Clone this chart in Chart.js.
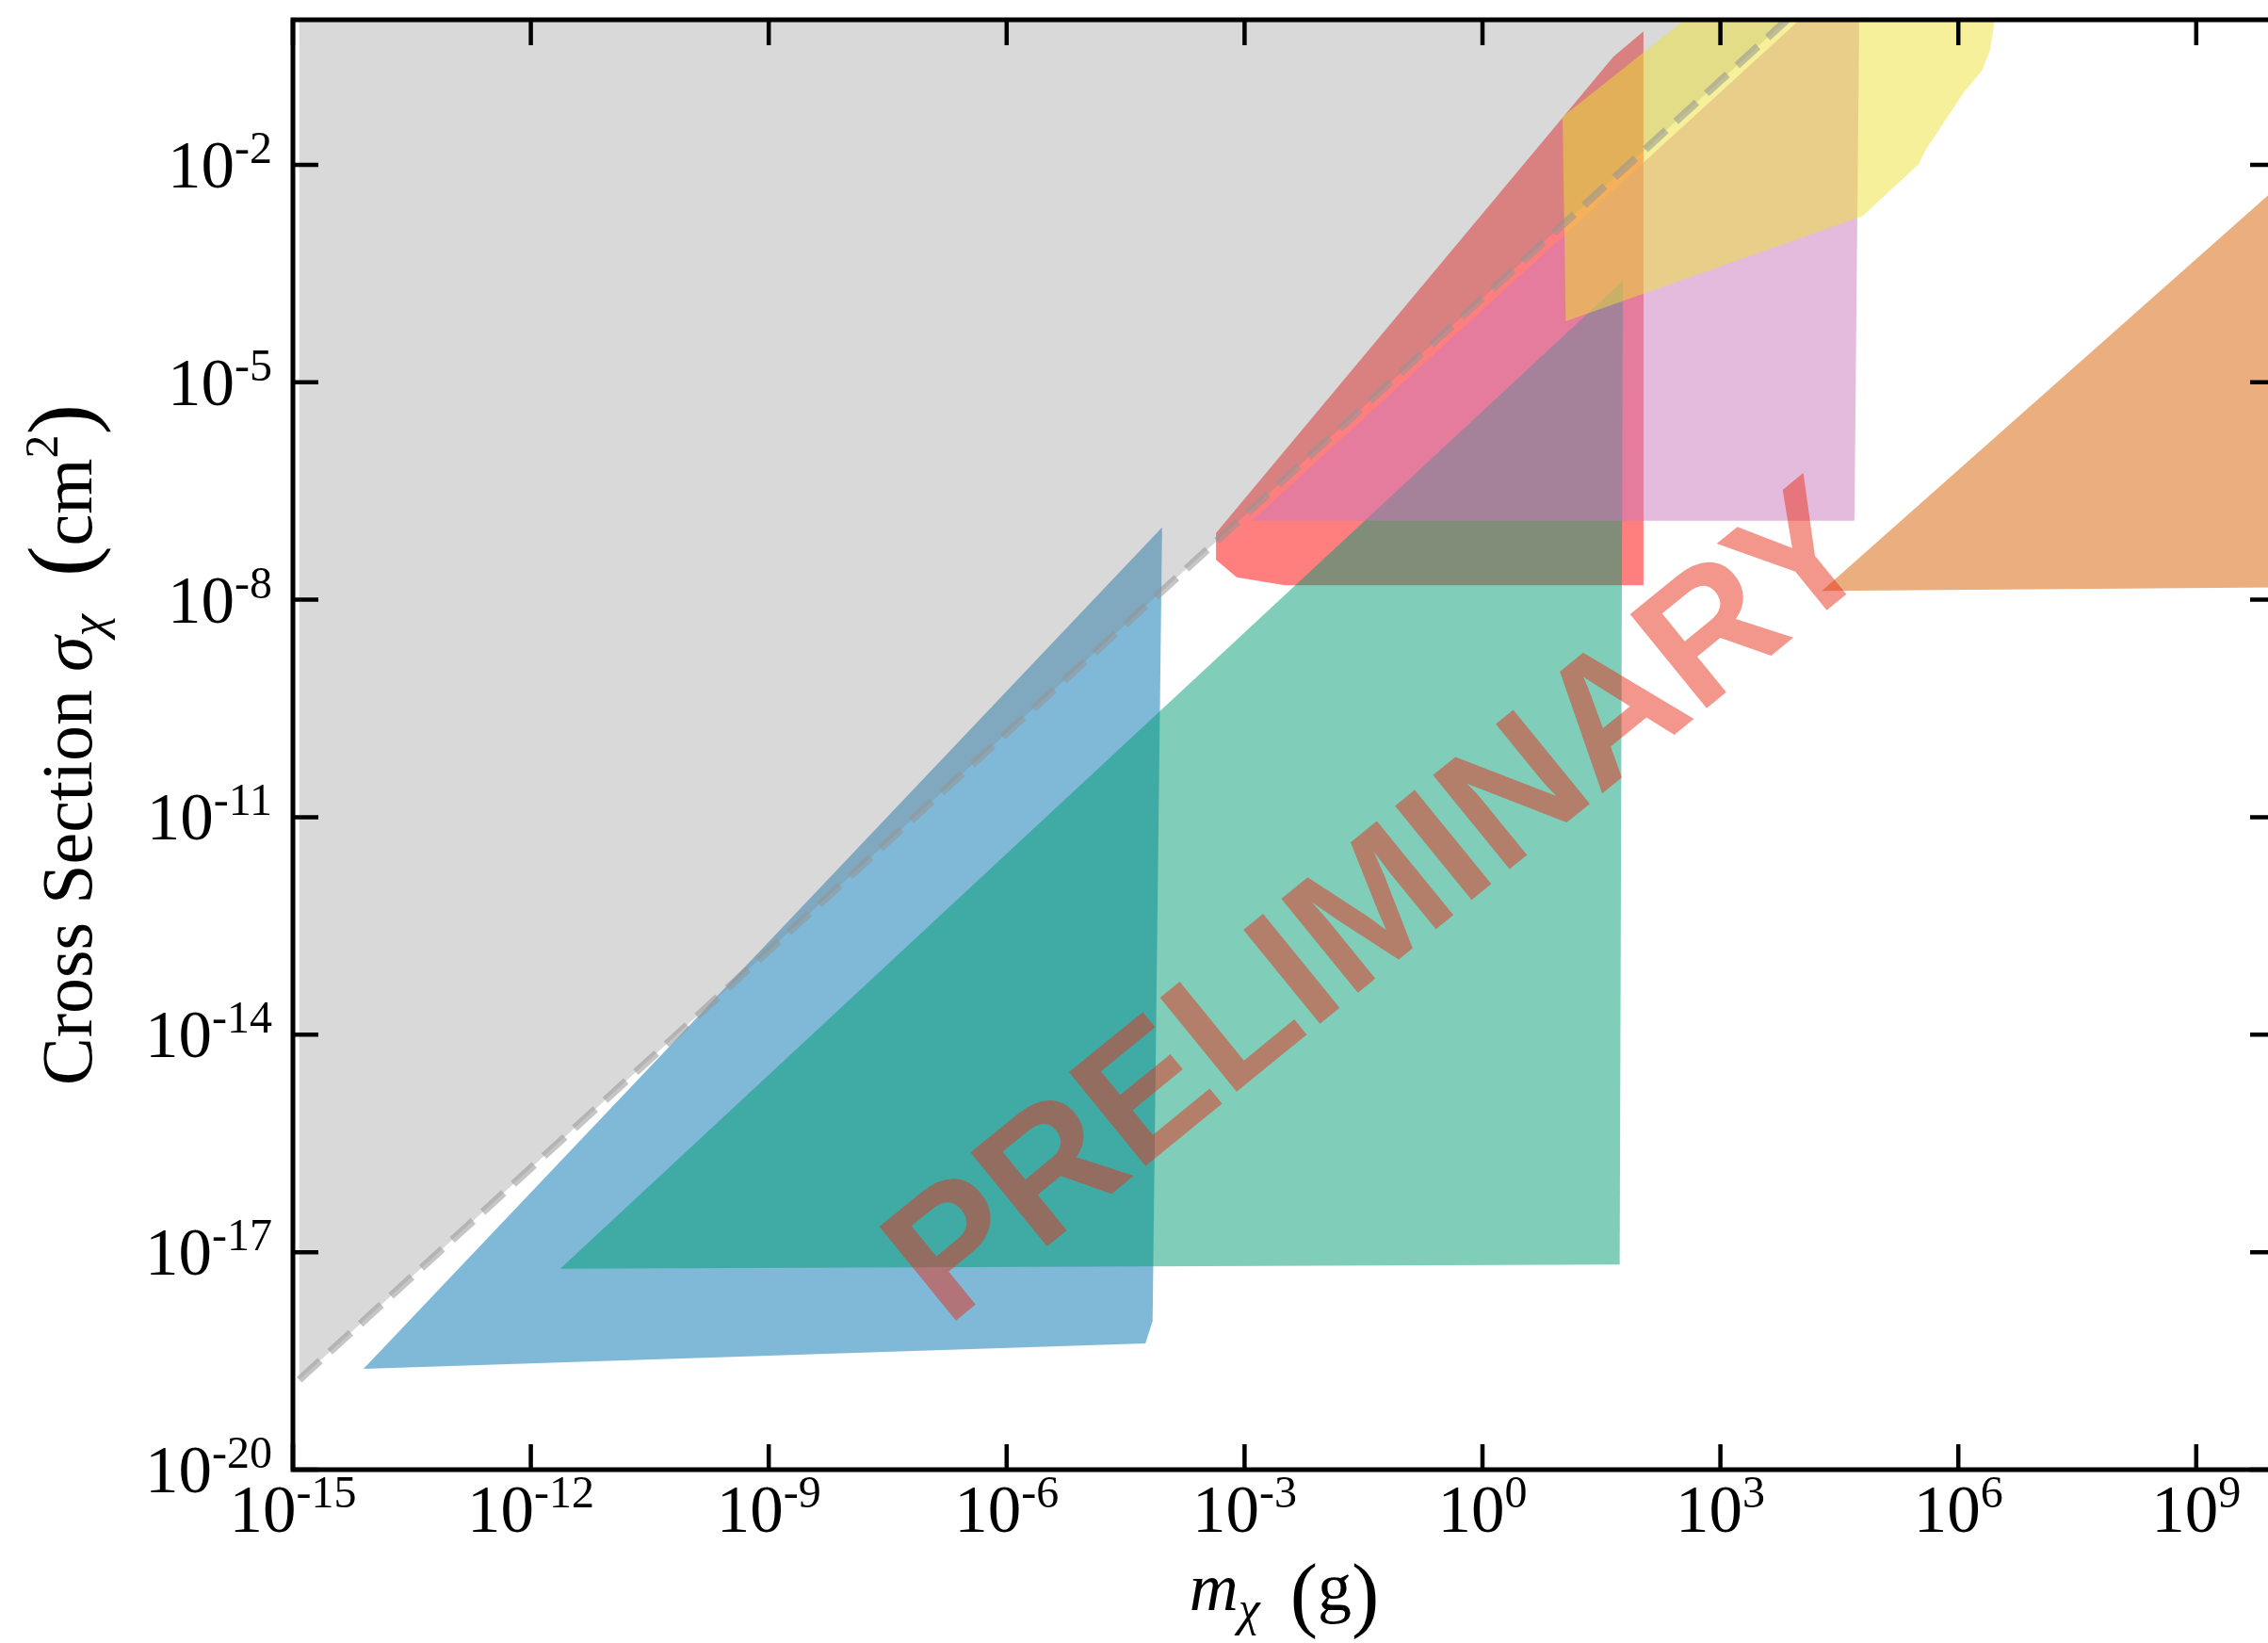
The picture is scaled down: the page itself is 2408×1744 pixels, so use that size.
<!DOCTYPE html>
<html lang="en">
<head>
<meta charset="UTF-8">
<title>Cross section vs mass</title>
<script src="https://cdn.jsdelivr.net/npm/chart.js@4.4.1/dist/chart.umd.min.js"></script>
<style>
  html, body { margin: 0; padding: 0; background: #fff; overflow: hidden; }
  #wrap { width: 2408px; height: 1744px; overflow: hidden; }
  canvas { display: block; }
</style>
</head>
<body>
<div id="wrap"><canvas id="chart" width="2440" height="1744"></canvas></div>
<script>
// axis ranges and ticks (powers of ten)
const xMin = 1e-15, xMax = 1e10;
const yMin = 1e-20, yMax = 1;
const xTickExps = [-15, -12, -9, -6, -3, 0, 3, 6, 9];
const yTickExps = [-20, -17, -14, -11, -8, -5, -2];

// region outlines: [log10 m (g), log10 sigma (cm^2)]
const greyRegion = [[-14.92, 0], [-14.92, -18.76], [3.84, 0]];
const boundaryLine = [[-14.92, -18.76], [3.84, 0]];
const blueRegion = [[-14.11, -18.61], [-4.04, -7.0], [-4.16, -17.95], [-4.25, -18.26]];
const greenRegion = [[-11.63, -17.23], [1.77, -3.6], [1.73, -17.17]];
const redRegion = [[-3.36, -7.08], [1.65, -0.51], [2.03, -0.16], [2.03, -7.8], [-2.49, -7.8], [-3.1, -7.69], [-3.36, -7.45]];
const pinkRegion = [[-2.91, -6.91], [4.0, 0], [4.75, 0], [4.69, -6.91]];
const yellowRegion = [[1.01, -1.34], [2.55, 0], [6.46, 0], [6.40, -0.42], [6.3, -0.7], [6.07, -1.0],
                      [5.59, -1.79], [5.5, -1.99], [4.79, -2.71], [1.05, -4.16]];
const orangeRegion = [[4.28, -7.88], [10, -2.33], [10, -7.83]];

const watermark = { text: 'PRELIMINARY', logM: -1.37, logS: -12.1, angle: -39.2 };

const toPoints = arr => arr.map(([lm, ls]) => ({ x: Math.pow(10, lm), y: Math.pow(10, ls) }));

function region(pts, color, order) {
  const data = toPoints(pts);
  data.push(data[0]);
  return {
    data, order, showLine: true, fill: 'shape',
    backgroundColor: color, borderColor: 'rgba(0,0,0,0)', borderWidth: 0,
    pointRadius: 0, tension: 0
  };
}

const SERIF = '"Liberation Serif", "DejaVu Serif", serif';

function drawPower(ctx, exp, x, base, align) {
  const main = '10', sup = String(exp);
  ctx.font = '71px ' + SERIF;
  const w1 = ctx.measureText(main).width;
  ctx.font = '48px ' + SERIF;
  const w2 = ctx.measureText(sup).width;
  const left = align === 'center' ? x - (w1 + w2) / 2 : x - (w1 + w2);
  ctx.textAlign = 'left';
  ctx.textBaseline = 'alphabetic';
  ctx.font = '71px ' + SERIF;
  ctx.fillText(main, left, base);
  ctx.font = '48px ' + SERIF;
  ctx.fillText(sup, left + w1, base - 26);
}

function piecesWidth(ctx, pieces) {
  let w = 0;
  pieces.forEach(p => { ctx.font = p.font; w += ctx.measureText(p.t).width + (p.gap || 0); });
  return w;
}

function drawPieces(ctx, pieces, cx, base) {
  let x = cx - piecesWidth(ctx, pieces) / 2;
  ctx.textAlign = 'left';
  ctx.textBaseline = 'alphabetic';
  pieces.forEach(p => {
    ctx.font = p.font;
    ctx.fillText(p.t, x, base + (p.dy || 0));
    x += ctx.measureText(p.t).width + (p.gap || 0);
  });
}

const xTitle = [
  { t: 'm', font: 'italic 72px ' + SERIF },
  { t: '\u03c7', font: 'italic 52px ' + SERIF, dy: 16, gap: 32 },
  { t: '(', font: '88px ' + SERIF, dy: 12 },
  { t: 'g', font: '72px ' + SERIF },
  { t: ')', font: '88px ' + SERIF, dy: 12 }
];
const yTitle = [
  { t: 'Cross Section ', font: '76px ' + SERIF },
  { t: '\u03c3', font: 'italic 76px ' + SERIF },
  { t: '\u03c7', font: 'italic 53px ' + SERIF, dy: 14, gap: 40 },
  { t: '(', font: '98px ' + SERIF },
  { t: 'cm', font: '76px ' + SERIF },
  { t: '2', font: '50px ' + SERIF, dy: -36 },
  { t: ')', font: '98px ' + SERIF }
];

const overlay = {
  id: 'overlay',
  afterDatasetsDraw(chart) {
    const { ctx, scales: { x, y } } = chart;
    ctx.save();
    ctx.translate(x.getPixelForValue(Math.pow(10, watermark.logM)), y.getPixelForValue(Math.pow(10, watermark.logS)));
    ctx.rotate(watermark.angle * Math.PI / 180);
    ctx.font = 'bold 187px "Liberation Sans", Arial, sans-serif';
    ctx.textAlign = 'center';
    ctx.textBaseline = 'alphabetic';
    ctx.fillStyle = 'rgba(232,48,28,0.5)';
    ctx.fillText(watermark.text, 0, 0.729 * 187 / 2);
    ctx.restore();
  },
  afterDraw(chart) {
    const { ctx, chartArea: a, scales: { x, y } } = chart;
    ctx.save();
    ctx.strokeStyle = '#000';
    ctx.lineWidth = 5;
    ctx.strokeRect(a.left, a.top, a.right - a.left, a.bottom - a.top);

    ctx.lineWidth = 4.5;
    ctx.beginPath();
    xTickExps.forEach(e => {
      const px = x.getPixelForValue(Math.pow(10, e));
      ctx.moveTo(px, a.bottom); ctx.lineTo(px, a.bottom - 27);
      ctx.moveTo(px, a.top); ctx.lineTo(px, a.top + 27);
    });
    yTickExps.forEach(e => {
      const py = y.getPixelForValue(Math.pow(10, e));
      ctx.moveTo(a.left, py); ctx.lineTo(a.left + 27, py);
      ctx.moveTo(a.right, py); ctx.lineTo(a.right - 27, py);
    });
    ctx.stroke();

    ctx.fillStyle = '#000';
    xTickExps.forEach(e => drawPower(ctx, e, x.getPixelForValue(Math.pow(10, e)), a.bottom + 66, 'center'));
    yTickExps.forEach(e => drawPower(ctx, e, a.left - 22, y.getPixelForValue(Math.pow(10, e)) + 24, 'right'));

    drawPieces(ctx, xTitle, (a.left + a.right) / 2, a.bottom + 149);

    ctx.translate(97, (a.top + a.bottom) / 2);
    ctx.rotate(-Math.PI / 2);
    drawPieces(ctx, yTitle, 0, 0);
    ctx.restore();
  }
};

new Chart(document.getElementById('chart'), {
  type: 'scatter',
  data: {
    datasets: [
      {
        data: toPoints(boundaryLine), order: 0, showLine: true, fill: false,
        borderColor: 'rgba(150,150,150,0.55)', borderWidth: 8, borderDash: [30, 14],
        pointRadius: 0
      },
      region(orangeRegion, 'rgba(213,94,0,0.5)', 1),
      region(yellowRegion, 'rgba(236,225,51,0.5)', 2),
      region(greyRegion, 'rgba(128,128,128,0.3)', 3),
      region(pinkRegion, 'rgba(204,120,188,0.5)', 4),
      region(greenRegion, 'rgba(2,158,115,0.5)', 5),
      region(redRegion, 'rgba(255,0,0,0.5)', 6),
      region(blueRegion, 'rgba(1,115,178,0.5)', 7)
    ]
  },
  options: {
    responsive: false,
    animation: false,
    events: [],
    layout: { padding: { left: 0, right: 24, top: 21, bottom: 0 } },
    plugins: { legend: { display: false }, tooltip: { enabled: false } },
    scales: {
      x: {
        type: 'logarithmic', min: xMin, max: xMax,
        ticks: { display: false }, grid: { display: false }, border: { display: false },
        afterFit: s => { s.height = 184; }
      },
      y: {
        type: 'logarithmic', min: yMin, max: yMax,
        ticks: { display: false }, grid: { display: false }, border: { display: false },
        afterFit: s => { s.width = 311; }
      }
    }
  },
  plugins: [overlay]
});
</script>
</body>
</html>
